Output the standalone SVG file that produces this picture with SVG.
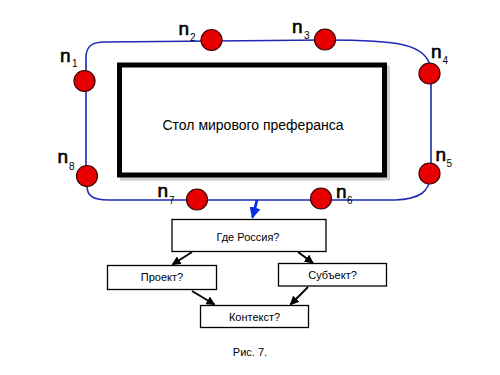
<svg xmlns="http://www.w3.org/2000/svg" width="500" height="375" viewBox="0 0 500 375">
<defs>
<style>
.node circle{fill:#e60000;stroke:#3a0000;stroke-width:1.2}
.lbl{font-family:"Liberation Sans",Arial,sans-serif;font-size:19px;fill:#000;stroke:#000;stroke-width:0.6}
.sub{font-family:"Liberation Sans",Arial,sans-serif;font-size:10px;fill:#000}
.box rect{fill:#fff;stroke:#000;stroke-width:1.3}
.box text,.cap{font-family:"Liberation Sans",Arial,sans-serif;font-size:11px;fill:#000;text-anchor:middle}
.conn{stroke:#000;stroke-width:2;fill:none;marker-end:url(#ah)}
</style>
<marker id="ah" viewBox="0 0 10 10" refX="9" refY="5" markerWidth="4.5" markerHeight="4.5" orient="auto" markerUnits="strokeWidth">
<path d="M0,0 L10,5 L0,10 Z" fill="#000"/>
</marker>
<marker id="ahb" viewBox="0 0 10 10" refX="9" refY="5" markerWidth="4" markerHeight="4" orient="auto" markerUnits="strokeWidth">
<path d="M0,0 L10,5 L0,10 Z" fill="#0a2ee6"/>
</marker>
</defs>
<rect width="500" height="375" fill="#fff"/>
<g id="table">
<rect x="122.5" y="68" width="265" height="110" fill="none" stroke="#cfcfcf" stroke-width="5"/>
<rect x="119.5" y="65" width="265" height="110" fill="#fff" stroke="#000" stroke-width="5"/>
<text x="253" y="129.5" font-family="'Liberation Sans',Arial,sans-serif" font-size="14" text-anchor="middle">Стол мирового преферанса</text>
</g>
<g id="loop">
<path d="M86,186 L86,58 C86,46 92,42 105,42 L325,40 C400,40 425,44 431,68 L431,175 C429,192 420,199 395,200 L108,200 C92,200 87,195 87,186 Z" fill="none" stroke="#1e28b4" stroke-width="1.6"/>
</g>
<g id="n1" class="node"><circle cx="84.5" cy="81" r="10.5"/><text class="lbl" x="60" y="62">n</text><text class="sub" x="72" y="67">1</text></g>
<g id="n2" class="node"><circle cx="211.5" cy="40" r="10.5"/><text class="lbl" x="178.5" y="35">n</text><text class="sub" x="190" y="40.5">2</text></g>
<g id="n3" class="node"><circle cx="325" cy="39.5" r="10.5"/><text class="lbl" x="292" y="33">n</text><text class="sub" x="304" y="38.5">3</text></g>
<g id="n4" class="node"><circle cx="429.5" cy="73.5" r="10.5"/><text class="lbl" x="431" y="57.5">n</text><text class="sub" x="442.5" y="64">4</text></g>
<g id="n5" class="node"><circle cx="429.5" cy="173.5" r="10.5"/><text class="lbl" x="435.5" y="160.5">n</text><text class="sub" x="446.5" y="166.5">5</text></g>
<g id="n6" class="node"><circle cx="321" cy="198.5" r="10.5"/><text class="lbl" x="336" y="198">n</text><text class="sub" x="347" y="203.5">6</text></g>
<g id="n7" class="node"><circle cx="197" cy="199.5" r="10.5"/><text class="lbl" x="157.5" y="197">n</text><text class="sub" x="169" y="203.5">7</text></g>
<g id="n8" class="node"><circle cx="87" cy="176" r="10.5"/><text class="lbl" x="57.5" y="163">n</text><text class="sub" x="69" y="169.5">8</text></g>
<g id="where" class="box"><rect x="172" y="219.5" width="154" height="32"/><text x="248" y="240.5">Где Россия?</text></g>
<g id="project" class="box"><rect x="107.5" y="265.5" width="109" height="24"/><text x="162" y="281">Проект?</text></g>
<g id="subject" class="box"><rect x="278.5" y="263.5" width="108" height="22.5"/><text x="332.5" y="278.5">Субъект?</text></g>
<g id="context" class="box"><rect x="200.5" y="305.5" width="108" height="22"/><text x="254.5" y="320.5">Контекст?</text></g>
<g id="connectors">
<line x1="257" y1="200" x2="252.5" y2="217.5" stroke="#0a2ee6" stroke-width="2.8" marker-end="url(#ahb)"/>
<line class="conn" x1="192" y1="252" x2="172.5" y2="264.5"/>
<line class="conn" x1="298" y1="252" x2="313" y2="263"/>
<line class="conn" x1="192" y1="291" x2="214.5" y2="304.5"/>
<line class="conn" x1="308" y1="287" x2="290.5" y2="304.5"/>
</g>
<text class="cap" x="250" y="356">Рис. 7.</text>
</svg>
